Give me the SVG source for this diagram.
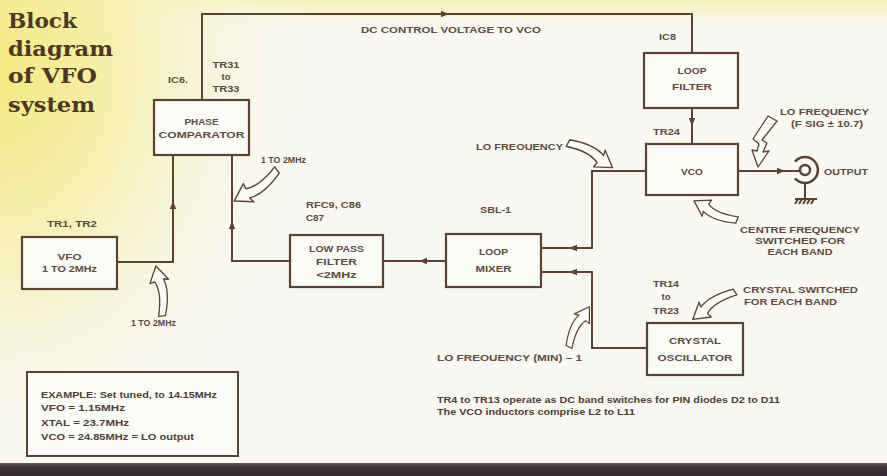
<svg xmlns="http://www.w3.org/2000/svg" width="887" height="476" viewBox="0 0 887 476">
<defs>
<radialGradient id="yel" cx="0" cy="0" r="1" gradientUnits="userSpaceOnUse" gradientTransform="translate(0,70) scale(320,420)">
<stop offset="0" stop-color="#f3ea80"/>
<stop offset="0.4" stop-color="#f6f1b4"/>
<stop offset="1" stop-color="#f9f8f2" stop-opacity="0"/>
</radialGradient>
<linearGradient id="topy" x1="0" y1="0" x2="0" y2="1">
<stop offset="0" stop-color="#f5f0b0"/>
<stop offset="1" stop-color="#f9f8f2" stop-opacity="0"/>
</linearGradient>
<linearGradient id="band" x1="0" y1="0" x2="0" y2="1">
<stop offset="0" stop-color="#6d5d58"/>
<stop offset="0.3" stop-color="#40323a"/>
<stop offset="1" stop-color="#382a31"/>
</linearGradient>
<polygon id="ah" points="4,0 -4,-3.2 -4,3.2"/>
<path id="ca" d="M0,-3.5 Q22,-11 35,-6 L34,-11 L48,0 L32,8 L33,3 Q22,-3 0,3.5 Z"/>
<style>
.ln{fill:none;stroke:#5b4232;stroke-width:2}
.bx{fill:#fbfbf7;stroke:#5b4232;stroke-width:2.2}
.ah{fill:#5b4232}
.ca{fill:#fbfbf6;stroke:#5b4232;stroke-width:1.3;stroke-linejoin:round}
.t{font-family:"Liberation Sans",Arial,sans-serif;font-weight:bold;font-size:9.5px;fill:#5e4b3e}
.c{text-anchor:middle}
.ttl{font-family:"DejaVu Serif",serif;font-weight:bold;font-size:21px;fill:#4d3828}
.n{font-family:"Liberation Sans",Arial,sans-serif;font-weight:bold;font-size:8.5px;fill:#4f3f35}
</style>
</defs>

<rect x="0" y="0" width="887" height="476" fill="#f9f8f2"/>
<rect x="0" y="0" width="887" height="36" fill="url(#topy)"/>
<rect x="0" y="0" width="887" height="476" fill="url(#yel)"/>
<rect x="0" y="463" width="887" height="13" fill="url(#band)"/>

<g id="title">
<text class="ttl" x="8" y="28" textLength="69" lengthAdjust="spacingAndGlyphs">Block</text>
<text class="ttl" x="8" y="56" textLength="105" lengthAdjust="spacingAndGlyphs">diagram</text>
<text class="ttl" x="8" y="83" textLength="89" lengthAdjust="spacingAndGlyphs">of VFO</text>
<text class="ttl" x="8" y="112" textLength="87" lengthAdjust="spacingAndGlyphs">system</text>
</g>

<g id="connectors">
<path class="ln" d="M202,100 V14 H692 V53"/>
<path class="ln" d="M692,108 V144"/>
<path class="ln" d="M738,171 H800"/>
<path class="ln" d="M541,248 H592 V171 H646"/>
<path class="ln" d="M541,272 H592 V348 H647"/>
<path class="ln" d="M446,261 H383"/>
<path class="ln" d="M290,261 H232 V155"/>
<path class="ln" d="M117,262 H173 V155"/>
<use href="#ah" class="ah" transform="translate(445,14)"/>
<use href="#ah" class="ah" transform="translate(692,122) rotate(90)"/>
<use href="#ah" class="ah" transform="translate(781,171)"/>
<use href="#ah" class="ah" transform="translate(573,248) rotate(180)"/>
<use href="#ah" class="ah" transform="translate(573,272) rotate(180)"/>
<use href="#ah" class="ah" transform="translate(423,261) rotate(180)"/>
<use href="#ah" class="ah" transform="translate(232,225) rotate(-90)"/>
<use href="#ah" class="ah" transform="translate(173,205) rotate(-90)"/>
<text class="t c" x="451" y="33" textLength="180" lengthAdjust="spacingAndGlyphs">DC CONTROL VOLTAGE TO VCO</text>
</g>

<g id="annotations">
<use href="#ca" class="ca" transform="translate(162,316) rotate(-97) scale(1.05,-1)"/>
<text class="t" x="131" y="326" textLength="45" lengthAdjust="spacingAndGlyphs" font-size="8.5">1 TO 2MHz</text>
<use href="#ca" class="ca" transform="translate(277,170) rotate(144) scale(1.1)"/>
<text class="t" x="261" y="163" textLength="45" lengthAdjust="spacingAndGlyphs" font-size="8.5">1 TO 2MHz</text>
<use href="#ca" class="ca" transform="translate(568,143) rotate(29) scale(1.06)"/>
<text class="t" x="476" y="150" textLength="87" lengthAdjust="spacingAndGlyphs">LO FREOUENCY</text>
<use href="#ca" class="ca" transform="translate(737,220) rotate(204) scale(0.98)"/>
<text class="t c" x="800" y="233" textLength="120" lengthAdjust="spacingAndGlyphs">CENTRE FREQUENCY</text>
<text class="t c" x="800" y="244" textLength="90" lengthAdjust="spacingAndGlyphs">SWITCHED FOR</text>
<text class="t c" x="800" y="255" textLength="65" lengthAdjust="spacingAndGlyphs">EACH BAND</text>
<use href="#ca" class="ca" transform="translate(735,292) rotate(147) scale(1.05,-1)"/>
<text class="t" x="743" y="293" textLength="115" lengthAdjust="spacingAndGlyphs">CRYSTAL SWITCHED</text>
<text class="t" x="744" y="305" textLength="93" lengthAdjust="spacingAndGlyphs">FOR EACH BAND</text>
<use href="#ca" class="ca" transform="translate(569,347) rotate(-63) scale(0.94)"/>
<text class="t" x="437" y="361" textLength="145" lengthAdjust="spacingAndGlyphs">LO FREOUENCY (MIN) – 1</text>
<path class="ca" d="M768,116 L777,121 L762,140 L767,143 L763,152 L769,151 L758,167 L752,150 L757,151 L759,144 L753,139 Z"/>
<text class="t" x="780" y="115" textLength="89" lengthAdjust="spacingAndGlyphs">LO FREQUENCY</text>
<text class="t" x="791" y="127" textLength="72" lengthAdjust="spacingAndGlyphs">(F SIG ± 10.7)</text>
</g>

<g id="output">
<path d="M795,161.6 A13,13 0 1 1 795,178.4" fill="none" stroke="#5b4232" stroke-width="2.5"/>
<circle cx="805" cy="170" r="5" fill="#fbfbf7" stroke="#5b4232" stroke-width="2.5"/>
<path class="ln" d="M805,183 V199 M795,199 H817 M798,199 l-3,5 M802,199 l-3,5 M806,199 l-3,5 M810,199 l-3,5 M814,199 l-3,5" stroke-width="1.6"/>
<text class="t" x="824" y="175" textLength="44" lengthAdjust="spacingAndGlyphs" font-size="10.5">OUTPUT</text>
</g>

<g id="phase-comparator">
<rect class="bx" x="154" y="100" width="95" height="55"/>
<text class="t c" x="201.5" y="125" textLength="34" lengthAdjust="spacingAndGlyphs">PHASE</text>
<text class="t c" x="201.5" y="138" textLength="86" lengthAdjust="spacingAndGlyphs">COMPARATOR</text>
<text class="t" x="168" y="83" textLength="20" lengthAdjust="spacingAndGlyphs">IC6.</text>
<text class="t c" x="226" y="68" textLength="27" lengthAdjust="spacingAndGlyphs">TR31</text>
<text class="t c" x="226" y="80">to</text>
<text class="t c" x="226" y="92" textLength="27" lengthAdjust="spacingAndGlyphs">TR33</text>
</g>

<g id="loop-filter">
<rect class="bx" x="644" y="53" width="94" height="55"/>
<text class="t c" x="692" y="74" textLength="29" lengthAdjust="spacingAndGlyphs">LOOP</text>
<text class="t c" x="692" y="90" textLength="40" lengthAdjust="spacingAndGlyphs">FILTER</text>
<text class="t" x="659" y="40" textLength="17" lengthAdjust="spacingAndGlyphs">IC8</text>
</g>

<g id="vco">
<rect class="bx" x="646" y="144" width="92" height="51"/>
<text class="t c" x="692" y="175" textLength="22" lengthAdjust="spacingAndGlyphs">VCO</text>
<text class="t" x="653" y="135" textLength="27" lengthAdjust="spacingAndGlyphs">TR24</text>
</g>

<g id="vfo">
<rect class="bx" x="22" y="237" width="95" height="52"/>
<text class="t c" x="69.5" y="260" textLength="24" lengthAdjust="spacingAndGlyphs">VFO</text>
<text class="t c" x="69.5" y="272" textLength="55" lengthAdjust="spacingAndGlyphs">1 TO 2MHz</text>
<text class="t" x="47" y="227" textLength="50" lengthAdjust="spacingAndGlyphs">TR1, TR2</text>
</g>

<g id="low-pass-filter">
<rect class="bx" x="290" y="235" width="93" height="52"/>
<text class="t c" x="336.5" y="252" textLength="55" lengthAdjust="spacingAndGlyphs">LOW PASS</text>
<text class="t c" x="336.5" y="265" textLength="41" lengthAdjust="spacingAndGlyphs">FILTER</text>
<text class="t c" x="336.5" y="278" textLength="40" lengthAdjust="spacingAndGlyphs">&lt;2MHz</text>
<text class="t" x="306" y="208" textLength="55" lengthAdjust="spacingAndGlyphs">RFC9, C86</text>
<text class="t" x="306" y="221" textLength="18" lengthAdjust="spacingAndGlyphs">C87</text>
</g>

<g id="loop-mixer">
<rect class="bx" x="446" y="234" width="95" height="53"/>
<text class="t c" x="493.5" y="255" textLength="29" lengthAdjust="spacingAndGlyphs">LOOP</text>
<text class="t c" x="493.5" y="272" textLength="36" lengthAdjust="spacingAndGlyphs">MIXER</text>
<text class="t" x="480" y="213" textLength="31" lengthAdjust="spacingAndGlyphs">SBL-1</text>
</g>

<g id="crystal-oscillator">
<rect class="bx" x="647" y="323" width="96" height="52"/>
<text class="t c" x="695" y="344" textLength="52" lengthAdjust="spacingAndGlyphs">CRYSTAL</text>
<text class="t c" x="695" y="361" textLength="75" lengthAdjust="spacingAndGlyphs">OSCILLATOR</text>
<text class="t c" x="666" y="287" textLength="26" lengthAdjust="spacingAndGlyphs">TR14</text>
<text class="t c" x="666" y="300">to</text>
<text class="t c" x="666" y="314" textLength="26" lengthAdjust="spacingAndGlyphs">TR23</text>
</g>

<g id="example">
<rect x="27" y="372" width="211" height="84" fill="#fbfbf7" stroke="#5b4232" stroke-width="2"/>
<text class="n" x="41" y="398" textLength="176" lengthAdjust="spacingAndGlyphs">EXAMPLE: Set tuned, to 14.15MHz</text>
<text class="n" x="41" y="411" textLength="84" lengthAdjust="spacingAndGlyphs">VFO = 1.15MHz</text>
<text class="n" x="41" y="426" textLength="88" lengthAdjust="spacingAndGlyphs">XTAL = 23.7MHz</text>
<text class="n" x="41" y="440" textLength="153" lengthAdjust="spacingAndGlyphs">VCO = 24.85MHz = LO output</text>
</g>

<g id="notes">
<text class="n" x="437" y="403" textLength="343" lengthAdjust="spacingAndGlyphs">TR4 to TR13 operate as DC band switches for PIN diodes D2 to D11</text>
<text class="n" x="437" y="415" textLength="198" lengthAdjust="spacingAndGlyphs">The VCO inductors comprise L2 to L11</text>
</g>
</svg>
